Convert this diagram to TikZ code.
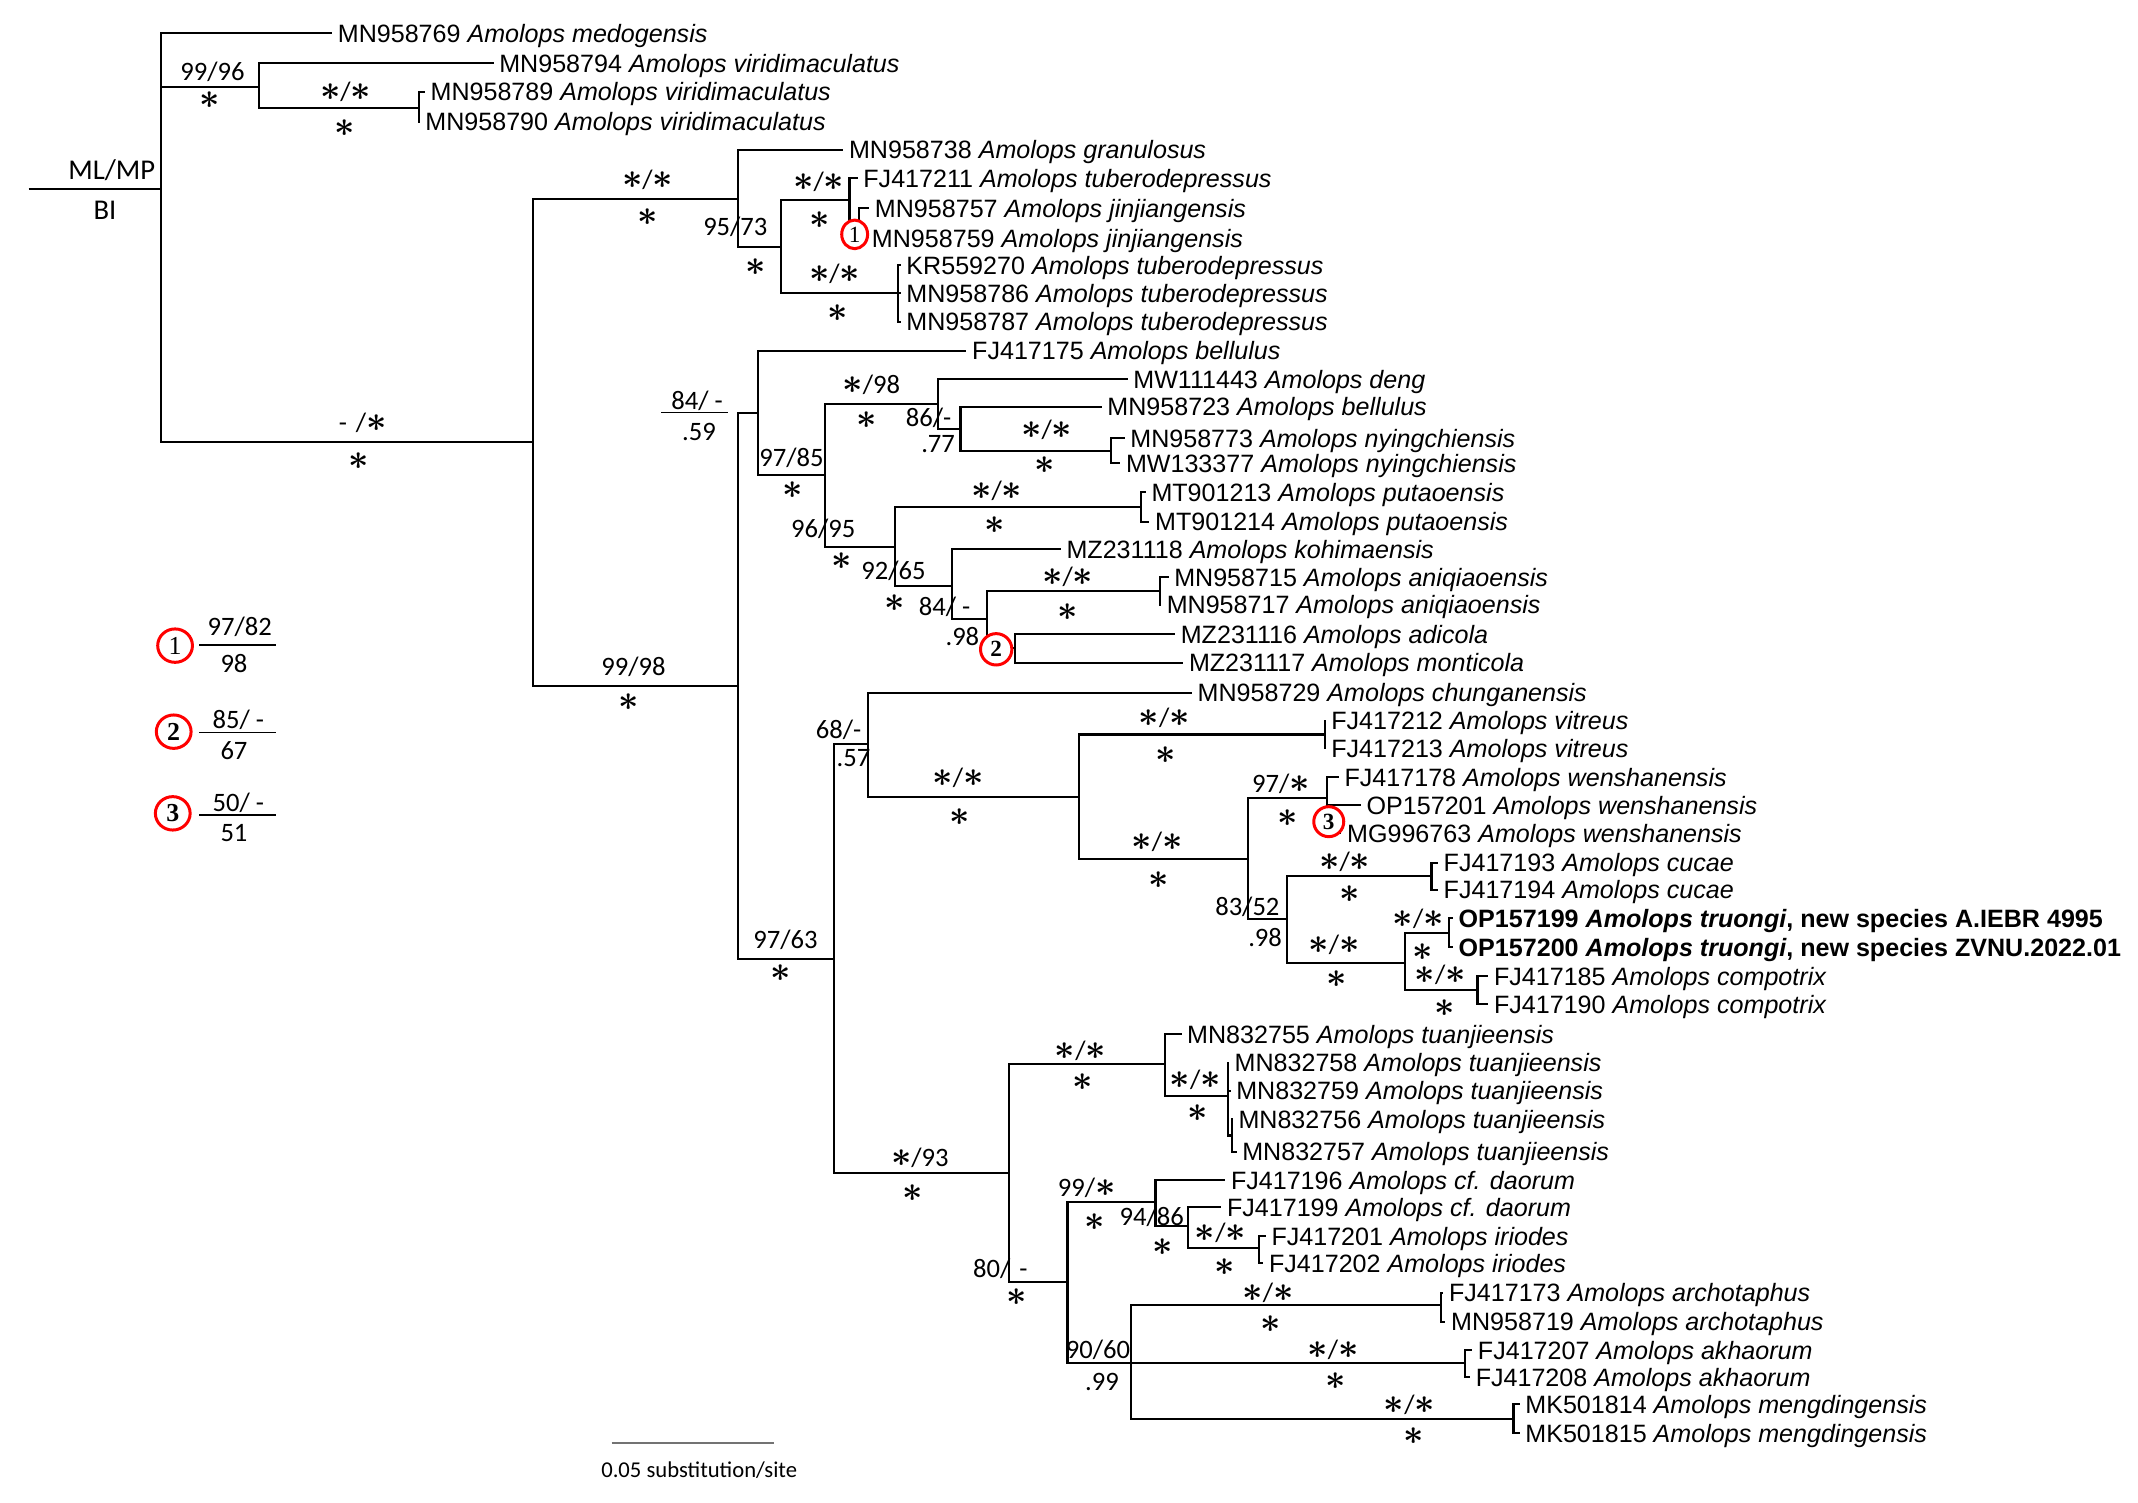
\documentclass[tikz,border=0pt]{standalone}
\usepackage{fontspec}
\setmainfont{Liberation Sans}
\newfontfamily\supfont{Carlito}
\newfontfamily\numfont{Liberation Serif}
\usepackage{graphicx}
\usetikzlibrary{shapes.geometric}
\newcommand\as{\scalebox{2.6}{\fontsize{10}{12}\selectfont\boldmath$\ast$}}
\newcommand\Am[1]{\textit{Amolops #1}}
\newcommand\tax[4]{\node[taxon] (#1) at ({#2-5},#3) {#4};}
\newcommand\supv[4]{\node[supp] (#1) at (#2,#3) {#4};}
\newcommand\brr[2]{\draw[br] (#1) |- (#2);}
\newcommand\brt[2]{\draw[br] (#1) |- (#2.west);}
\begin{document}
\begin{tikzpicture}[x=1pt,y=-1pt,
 taxon/.style={anchor=west,inner xsep=4pt,inner ysep=0pt,text height=13.2pt,text depth=0pt,font=\fontsize{18.4}{21}\selectfont},
 supp/.style={inner sep=0pt,font=\supfont\fontsize{19.5}{22}\selectfont},
 br/.style={line width=1.6pt},
 ring/.style={draw=red,line width=2.2pt,ellipse,fill=white,inner sep=0pt,font=\numfont\fontsize{17}{17}\selectfont},
 frac/.style={line width=1.1pt},
]
\useasboundingbox (0,0) rectangle (1568,1102);
% ---------- taxa ----------
\tax{t1}{248.6}{24.4}{MN958769 \Am{medogensis}}
\tax{t2}{367}{46.4}{MN958794 \Am{viridimaculatus}}
\tax{t3}{316.6}{67.2}{MN958789 \Am{viridimaculatus}}
\tax{t4}{312.8}{89.2}{MN958790 \Am{viridimaculatus}}
\tax{t5}{623.5}{110}{MN958738 \Am{granulosus}}
\tax{t6}{634}{130.8}{FJ417211 \Am{tuberodepressus}}
\tax{t7}{642.5}{152.8}{MN958757 \Am{jinjiangensis}}
\tax{t8}{640.3}{174.8}{MN958759 \Am{jinjiangensis}}
\tax{t9}{665.6}{194.4}{KR559270 \Am{tuberodepressus}}
\tax{t10}{665.6}{215.1}{MN958786 \Am{tuberodepressus}}
\tax{t11}{665.6}{235.9}{MN958787 \Am{tuberodepressus}}
\tax{t12}{713.8}{257.2}{FJ417175 \Am{bellulus}}
\tax{t13}{832}{278.2}{MW111443 \Am{deng}}
\tax{t14}{813}{298.2}{MN958723 \Am{bellulus}}
\tax{t15}{829.8}{321.5}{MN958773 \Am{nyingchiensis}}
\tax{t16}{826.6}{339.8}{MW133377 \Am{nyingchiensis}}
\tax{t17}{845.3}{361.1}{MT901213 \Am{putaoensis}}
\tax{t18}{848}{382.6}{MT901214 \Am{putaoensis}}
\tax{t19}{783}{402.9}{MZ231118 \Am{kohimaensis}}
\tax{t20}{862}{423.4}{MN958715 \Am{aniqiaoensis}}
\tax{t21}{856.5}{443.7}{MN958717 \Am{aniqiaoensis}}
\tax{t22}{866.8}{465}{MZ231116 \Am{adicola}}
\tax{t23}{872.8}{486}{MZ231117 \Am{monticola}}
\tax{t24}{879.2}{508}{MN958729 \Am{chunganensis}}
\tax{t25}{977.2}{528.6}{FJ417212 \Am{vitreus}}
\tax{t26}{977.2}{548.8}{FJ417213 \Am{vitreus}}
\tax{t27}{986.9}{570.1}{FJ417178 \Am{wenshanensis}}
\tax{t28}{1003.1}{590.4}{OP157201 \Am{wenshanensis}}
\tax{t29}{988.8}{611.2}{MG996763 \Am{wenshanensis}}
\tax{t30}{1059.6}{632.7}{FJ417193 \Am{cucae}}
\tax{t31}{1059.6}{652.7}{FJ417194 \Am{cucae}}
\tax{t32}{1070.6}{673.5}{\textbf{OP157199 \textit{Amolops truongi}, new species A.IEBR 4995}}
\tax{t33}{1070.6}{694.8}{\textbf{OP157200 \textit{Amolops truongi}, new species ZVNU.2022.01}}
\tax{t34}{1096.5}{715.8}{FJ417185 \Am{compotrix}}
\tax{t35}{1096.5}{736.6}{FJ417190 \Am{compotrix}}
\tax{t36}{871.5}{758.6}{MN832755 \Am{tuanjieensis}}
\tax{t37}{906.3}{779.4}{MN832758 \Am{tuanjieensis}}
\tax{t38}{907.5}{800.1}{MN832759 \Am{tuanjieensis}}
\tax{t39}{909.1}{820.9}{MN832756 \Am{tuanjieensis}}
\tax{t40}{911.9}{844.6}{MN832757 \Am{tuanjieensis}}
\tax{t41}{903.6}{865.4}{FJ417196 \Am{cf. daorum}}
\tax{t42}{900.7}{885.4}{FJ417199 \Am{cf. daorum}}
\tax{t43}{933.3}{906.5}{FJ417201 \Am{iriodes}}
\tax{t44}{931.5}{926.5}{FJ417202 \Am{iriodes}}
\tax{t45}{1063.5}{948}{FJ417173 \Am{archotaphus}}
\tax{t46}{1065.1}{969.3}{MN958719 \Am{archotaphus}}
\tax{t47}{1084.7}{990.1}{FJ417207 \Am{akhaorum}}
\tax{t48}{1083.1}{1010.1}{FJ417208 \Am{akhaorum}}
\tax{t49}{1119.5}{1029.7}{MK501814 \Am{mengdingensis}}
\tax{t50}{1119.5}{1051.2}{MK501815 \Am{mengdingensis}}
% ---------- internal nodes ----------
\coordinate (R0) at (21,138.6);
\coordinate (R) at (118,138.6);
\coordinate (V) at (190,63.6);
\coordinate (V2) at (307,79);
\coordinate (B) at (391,324);
\coordinate (C1) at (541,146);
\coordinate (C11) at (573,181);
\coordinate (C111) at (623,146.7);
\coordinate (C1111) at (630,163.8);
\coordinate (C112) at (658.6,215.1);
\coordinate (C2) at (541,503);
\coordinate (C21) at (556,302.7);
\coordinate (C211) at (605,348.4);
\coordinate (C2111) at (688,296.3);
\coordinate (C21111) at (704.4,314.9);
\coordinate (C211111) at (815,330.7);
\coordinate (C2112) at (656.3,401);
\coordinate (C21121) at (836.8,371.9);
\coordinate (C21122) at (698.2,429.8);
\coordinate (C211221) at (724.1,454.2);
\coordinate (C2112211) at (850.8,433.5);
\coordinate (C2112212) at (744.2,475.5);
\coordinate (C22) at (611.7,703.5);
\coordinate (C221) at (636.5,545.6);
\coordinate (C2211) at (791.5,584.3);
\coordinate (C22111) at (972,538.7);
\coordinate (C22112) at (915.5,630.2);
\coordinate (C221121) at (973.3,585.5);
\coordinate (C221122) at (944,674.2);
\coordinate (C2211221) at (1049.9,642.7);
\coordinate (C2211222) at (1030.4,706);
\coordinate (C22112221) at (1062.8,684.2);
\coordinate (C22112222) at (1083.6,726.2);
\coordinate (C222) at (739.7,860.1);
\coordinate (C2221) at (854.5,780.6);
\coordinate (C22212) at (900.7,803.8);
\coordinate (C222121) at (903.6,832.7);
\coordinate (C2222) at (782.9,940);
\coordinate (C22221) at (847.4,881.3);
\coordinate (C222212) at (871,899.2);
\coordinate (C2222122) at (923.2,915);
\coordinate (C22222) at (829.5,999.5);
\coordinate (Carch) at (1056.7,957);
\coordinate (Cakh) at (1074.6,999.5);
\coordinate (Cmeng) at (1110,1040.5);
% ---------- branches ----------
\draw[br] (R0) -- (R);
\brt{R}{t1} \brr{R}{V} \brr{R}{B}
\brt{V}{t2} \brr{V}{V2}
\brt{V2}{t3} \brt{V2}{t4}
\brr{B}{C1} \brr{B}{C2}
\brt{C1}{t5} \brr{C1}{C11}
\brr{C11}{C111} \brr{C11}{C112}
\brt{C111}{t6} \brr{C111}{C1111}
\brt{C1111}{t7} \brt{C1111}{t8}
\brt{C112}{t9} \brt{C112}{t10} \brt{C112}{t11}
\brr{C2}{C21} \brr{C2}{C22}
\brt{C21}{t12} \brr{C21}{C211}
\brr{C211}{C2111} \brr{C211}{C2112}
\brt{C2111}{t13} \brr{C2111}{C21111}
\brt{C21111}{t14} \brr{C21111}{C211111}
\brt{C211111}{t15} \brt{C211111}{t16}
\brr{C2112}{C21121} \brr{C2112}{C21122}
\brt{C21121}{t17} \brt{C21121}{t18}
\brt{C21122}{t19} \brr{C21122}{C211221}
\brr{C211221}{C2112211} \brr{C211221}{C2112212}
\brt{C2112211}{t20} \brt{C2112211}{t21}
\brt{C2112212}{t22} \brt{C2112212}{t23}
\brr{C22}{C221} \brr{C22}{C222}
\brt{C221}{t24} \brr{C221}{C2211}
\brr{C2211}{C22111} \brr{C2211}{C22112}
\brt{C22111}{t25} \brt{C22111}{t26}
\brr{C22112}{C221121} \brr{C22112}{C221122}
\brt{C221121}{t27} \brt{C221121}{t28} \brt{C221121}{t29}
\brr{C221122}{C2211221} \brr{C221122}{C2211222}
\brt{C2211221}{t30} \brt{C2211221}{t31}
\brr{C2211222}{C22112221} \brr{C2211222}{C22112222}
\brt{C22112221}{t32} \brt{C22112221}{t33}
\brt{C22112222}{t34} \brt{C22112222}{t35}
\brr{C222}{C2221} \brr{C222}{C2222}
\brt{C2221}{t36} \brr{C2221}{C22212}
\brt{C22212}{t37} \brt{C22212}{t38} \brr{C22212}{C222121}
\brt{C222121}{t39} \brt{C222121}{t40}
\brr{C2222}{C22221} \brr{C2222}{C22222}
\brt{C22221}{t41} \brr{C22221}{C222212}
\brt{C222212}{t42} \brr{C222212}{C2222122}
\brt{C2222122}{t43} \brt{C2222122}{t44}
\brr{C22222}{Carch} \brr{C22222}{Cakh} \brr{C22222}{Cmeng}
\brt{Carch}{t45} \brt{Carch}{t46}
\brt{Cakh}{t47} \brt{Cakh}{t48}
\brt{Cmeng}{t49} \brt{Cmeng}{t50}
% ---------- root labels ----------
\node[supp,font=\supfont\fontsize{21}{23}\selectfont] (mlmp) at (82,124.7) {ML/MP};
\node[supp,font=\supfont\fontsize{21}{23}\selectfont] (bi) at (77,154) {BI};
% ---------- support values ----------
\supv{s1}{155.8}{52.6}{99/96} \supv{s1b}{153.7}{73.3}{\as}
\supv{s2}{253.4}{67.7}{\as/\as} \supv{s2b}{252.6}{94.1}{\as}
\supv{s3}{266}{310}{-\,\,/\as} \supv{s3b}{263}{338}{\as}
\supv{s4}{474.9}{132}{\as/\as} \supv{s4b}{474.9}{158.9}{\as}
\supv{s5}{539.3}{166.2}{95/73} \supv{s5b}{554}{195.6}{\as}
\supv{s6}{600.4}{133.2}{\as/\as} \supv{s6b}{601}{161.3}{\as}
\supv{s7}{612.1}{200.5}{\as/\as} \supv{s7b}{614.2}{229.3}{\as}
\supv{s8}{464.6}{489.4}{99/98} \supv{s8b}{461.3}{514.6}{\as}
\supv{s9}{511.2}{293.9}{84/ -} \supv{s9b}{512.6}{316.6}{.59}
\coordinate (f0a) at (484.9,302.7); \coordinate (f0b) at (533.9,302.7);
\draw[frac] (f0a) -- (f0b);
\supv{s10}{580.4}{336.1}{97/85} \supv{s10b}{581.4}{359.4}{\as}
\supv{s11}{639}{282.4}{\as/98} \supv{s11b}{635.6}{308}{\as}
\supv{s12}{681}{306.8}{86/-} \supv{s12b}{688}{325.6}{.77}
\supv{s13}{767.6}{314.9}{\as/\as} \supv{s13b}{766.2}{341}{\as}
\supv{s14}{603.8}{387.5}{96/95} \supv{s14b}{617}{411.2}{\as}
\supv{s15}{731}{359.9}{\as/\as} \supv{s15b}{729.7}{385}{\as}
\supv{s16}{655.3}{418.5}{92/65} \supv{s16b}{656.2}{442.5}{\as}
\supv{s17}{692.7}{445}{84/ -} \supv{s17b}{705.8}{467}{.98}
\supv{s18}{783}{423}{\as/\as} \supv{s18b}{783}{448.6}{\as}
\supv{s19}{615}{535.4}{68/-} \supv{s19b}{626}{556.2}{.57}
\supv{s20}{702.6}{570.8}{\as/\as} \supv{s20b}{703.8}{599}{\as}
\supv{s21}{853.8}{526.1}{\as/\as} \supv{s21b}{855}{553.7}{\as}
\supv{s22}{848.6}{617.3}{\as/\as} \supv{s22b}{849.8}{645.4}{\as}
\supv{s23}{939.5}{574.5}{97/\as} \supv{s23b}{944.6}{600.2}{\as}
\supv{s24}{914.8}{665}{83/52} \supv{s24b}{927.8}{687.4}{.98}
\supv{s25}{986.2}{632.4}{\as/\as} \supv{s25b}{989.5}{655.9}{\as}
\supv{s26}{978.4}{693}{\as/\as} \supv{s26b}{980.2}{718.2}{\as}
\supv{s27}{1040.1}{673.5}{\as/\as} \supv{s27b}{1043.3}{698}{\as}
\supv{s28}{1056.3}{715.1}{\as/\as} \supv{s28b}{1059.6}{739.5}{\as}
\supv{s29}{576}{688.9}{97/63} \supv{s29b}{572.8}{713.8}{\as}
\supv{s30}{674.6}{849.5}{\as/93} \supv{s30b}{669}{874.7}{\as}
\supv{s31}{792.4}{770.6}{\as/\as} \supv{s31b}{794.1}{793.3}{\as}
\supv{s32}{876.6}{792.1}{\as/\as} \supv{s32b}{878.3}{816.5}{\as}
\supv{s33}{796.9}{871.5}{99/\as} \supv{s33b}{802.6}{896}{\as}
\supv{s34}{844.6}{892.3}{94/86} \supv{s34b}{853}{914.3}{\as}
\supv{s35}{895.1}{904.5}{\as/\as} \supv{s35b}{897.9}{929}{\as}
\supv{s36}{733.6}{930.2}{80/\,\,-} \supv{s36b}{745.3}{951.5}{\as}
\supv{s37}{805.3}{989.6}{90/60} \supv{s37b}{808.2}{1013.3}{.99}
\supv{s38}{929.9}{948.5}{\as/\as} \supv{s38b}{931.6}{971}{\as}
\supv{s39}{977.6}{990.1}{\as/\as} \supv{s39b}{979.3}{1012.6}{\as}
\supv{s40}{1033.7}{1030}{\as/\as} \supv{s40b}{1037}{1053.2}{\as}
% ---------- circled markers in tree ----------
\node[ring,minimum width=19pt,minimum height=21pt] (cT1) at (626.8,171.9) {1};
\node[ring,minimum width=23pt,minimum height=23pt,font=\numfont\bfseries\fontsize{17}{17}\selectfont] (cT2) at (730.6,476.2) {2};
\node[ring,minimum width=22pt,minimum height=22pt,font=\numfont\bfseries\fontsize{17}{17}\selectfont] (cT3) at (974.5,602.6) {3};
% ---------- legend ----------
\node[ring,minimum width=25.5pt,minimum height=24.5pt,font=\numfont\fontsize{19}{19}\selectfont] (cL1) at (128.4,473.5) {1};
\supv{L1a}{175.8}{459.6}{97/82} \supv{L1b}{171.6}{486.4}{98}
\coordinate (f1a) at (146,473); \coordinate (f1b) at (202.6,473);
\draw[frac] (f1a) -- (f1b);
\node[ring,minimum width=25.5pt,minimum height=24.5pt,font=\numfont\bfseries\fontsize{19}{19}\selectfont] (cL2) at (127.4,536.6) {2};
\supv{L2a}{174.8}{528}{85/ -} \supv{L2b}{171.6}{550.5}{67}
\coordinate (f2a) at (146,537.3); \coordinate (f2b) at (202.6,537.3);
\draw[frac] (f2a) -- (f2b);
\node[ring,minimum width=25.5pt,minimum height=24.5pt,font=\numfont\bfseries\fontsize{19}{19}\selectfont] (cL3) at (126.7,596.5) {3};
\supv{L3a}{174.8}{588.7}{50/ -} \supv{L3b}{171.6}{611}{51}
\coordinate (f3a) at (146,597.7); \coordinate (f3b) at (202.6,597.7);
\draw[frac] (f3a) -- (f3b);
% ---------- scale bar ----------
\coordinate (sb1) at (448.6,1058); \coordinate (sb2) at (567.4,1058);
\draw[black!55,line width=1.5pt] (sb1) -- (sb2);
\node[supp,font=\supfont\fontsize{16.6}{18}\selectfont] (sbl) at (512.8,1078) {0.05 substitution/site};
\end{tikzpicture}
\end{document}
